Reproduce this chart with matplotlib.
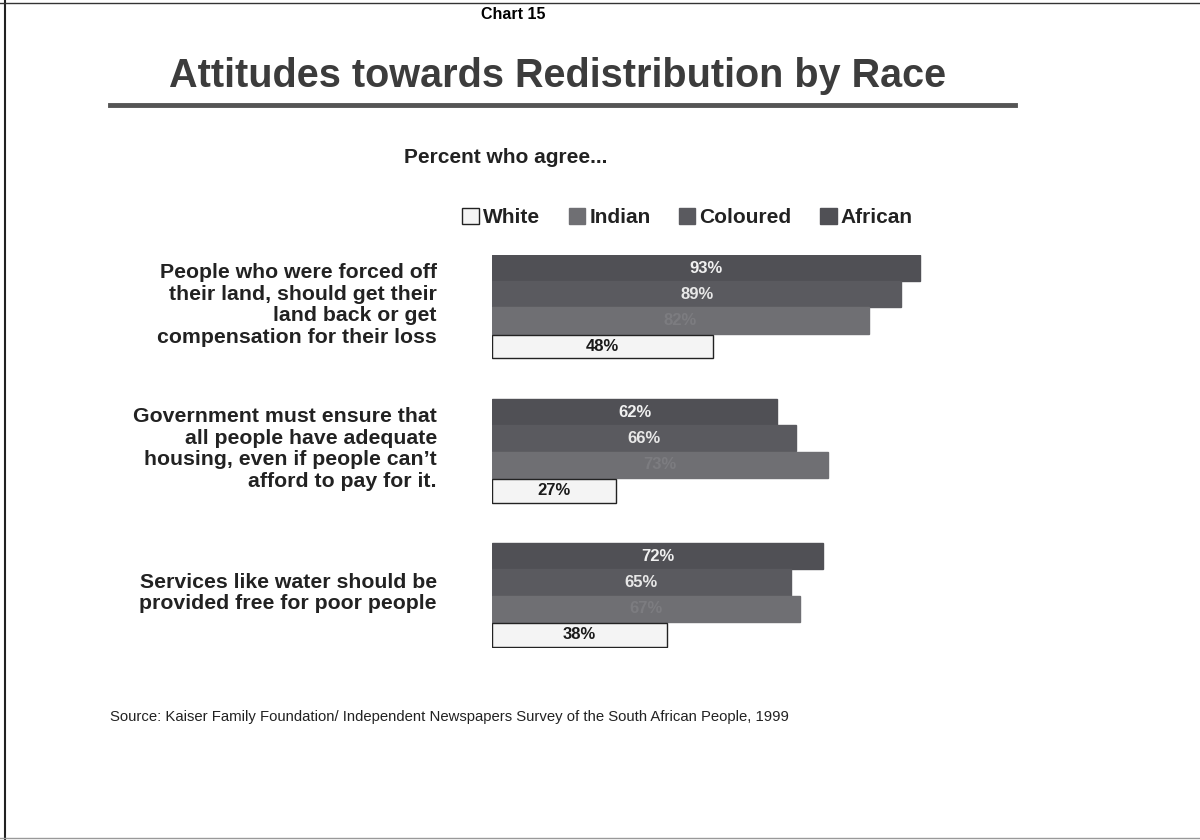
#!/usr/bin/env python3
# Chart 15 - attitudes towards redistribution by race

import numpy as np
import matplotlib
matplotlib.use('Agg')
import matplotlib.pyplot as plt
from matplotlib.patches import Patch
from matplotlib.lines import Line2D

plt.rcParams['font.family'] = ['Liberation Sans', 'DejaVu Sans']

statements = [
    'People who were forced off\ntheir land, should get their\nland back or get\ncompensation for their loss',
    'Government must ensure that\nall people have adequate\nhousing, even if people can\u2019t\nafford to pay for it.',
    'Services like water should be\nprovided free for poor people',
]
races = ['African', 'Coloured', 'Indian', 'White']
african = [93, 62, 72]
coloured = [89, 66, 65]
indian = [82, 73, 67]
white = [48, 27, 38]

values = {'African': african, 'Coloured': coloured, 'Indian': indian, 'White': white}
colors = {'African': '#505055', 'Coloured': '#5a5a5f', 'Indian': '#6f6f73', 'White': '#f4f4f4'}
label_colors = {'African': '#f0f0f0', 'Coloured': '#e8e8e8', 'Indian': '#7c7c80', 'White': '#1a1a1a'}


def main():
    fig = plt.figure(figsize=(12, 8.4), dpi=100)
    fig.patch.set_facecolor('white')

    # page frame lines from the scan
    fig.add_artist(Line2D([0.004, 0.004], [0.0, 1.0], color='#222222', lw=1.5))
    fig.add_artist(Line2D([0.0, 1.0], [0.997, 0.997], color='#333333', lw=1.0))
    fig.add_artist(Line2D([0.0, 1.0], [0.002, 0.002], color='#999999', lw=1.0))

    fig.text(0.428, 0.983, 'Chart 15', ha='center', va='center', fontsize=11.5, fontweight='bold')
    fig.text(0.465, 0.909, 'Attitudes towards Redistribution by Race', ha='center', va='center',
             fontsize=28.5, fontweight='bold', color='#3c3c3c')
    fig.add_artist(Line2D([0.092, 0.846], [0.875, 0.875], color='#555555', lw=3.5))
    fig.text(0.421, 0.812, 'Percent who agree...', ha='center', va='center', fontsize=15, fontweight='bold',
             color='#222222')

    ax = fig.add_axes([0.41, 1 - 648 / 840, 0.3833, 393 / 840])
    bar_h = 1.0
    group_gap = 5.5
    for g in range(len(statements)):
        for k, race in enumerate(races):
            y = g * group_gap + k + 0.5
            v = values[race][g]
            ec = '#222222' if race == 'White' else colors[race]
            ax.barh(y, v, height=bar_h * (0.9 if race == 'White' else 1.0), color=colors[race],
                    edgecolor=ec, linewidth=1.0)
            ax.text(v / 2, y, f'{v}%', ha='center', va='center', fontsize=12, fontweight='bold',
                    color=label_colors[race])
        ax.text(-0.12, g * group_gap + 1.9, statements[g],
                transform=ax.get_yaxis_transform(), ha='right', va='center', fontsize=15.3,
                fontweight='bold', color='#222222', linespacing=1.17)

    ax.set_xlim(0, 100)
    ax.set_ylim(2 * group_gap + 4, 0)
    ax.axis('off')

    handles = [Patch(facecolor=colors[r], edgecolor='#222222' if r == 'White' else colors[r], label=r)
               for r in ['White', 'Indian', 'Coloured', 'African']]
    fig.legend(handles=handles, loc='center', bbox_to_anchor=(0.573, 0.741), ncol=4, frameon=False,
               prop={'weight': 'bold', 'size': 15}, handlelength=0.8, handleheight=0.8,
               handletextpad=0.2, columnspacing=1.35, labelcolor='#222222')

    fig.text(0.092, 0.146, 'Source: Kaiser Family Foundation/ Independent Newspapers Survey of the South African People, 1999',
             ha='left', va='center', fontsize=10.7, color='#222222')

    fig.savefig('out.png', dpi=100)


if __name__ == '__main__':
    main()
